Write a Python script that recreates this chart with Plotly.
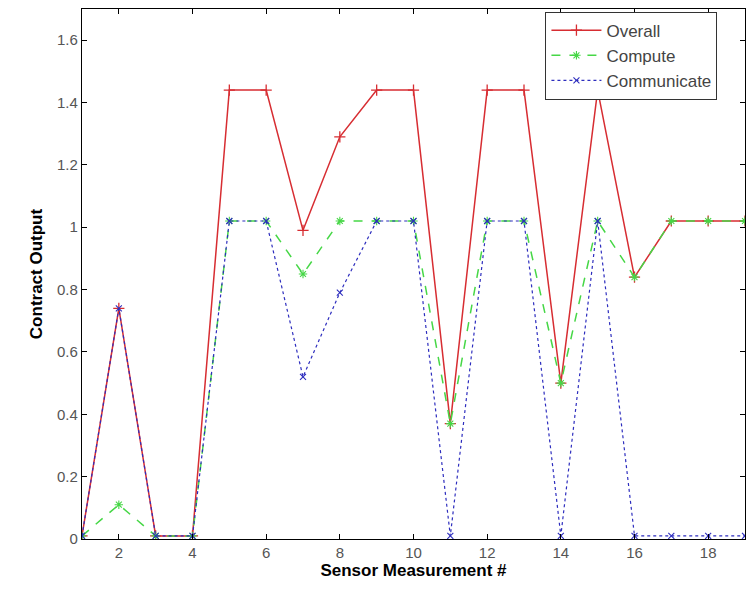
import plotly.graph_objects as go

x = list(range(1, 20))
overall = [0.01, 0.74, 0.01, 0.01, 1.44, 1.44, 0.99, 1.29, 1.44, 1.44,
           0.37, 1.44, 1.44, 0.50, 1.44, 0.84, 1.02, 1.02, 1.02]
compute = [0.01, 0.11, 0.01, 0.01, 1.02, 1.02, 0.85, 1.02, 1.02, 1.02,
           0.37, 1.02, 1.02, 0.50, 1.02, 0.84, 1.02, 1.02, 1.02]
communicate = [0.01, 0.74, 0.01, 0.01, 1.02, 1.02, 0.52, 0.79, 1.02, 1.02,
               0.01, 1.02, 1.02, 0.01, 1.02, 0.01, 0.01, 0.01, 0.01]
x_ticks = [2, 4, 6, 8, 10, 12, 14, 16, 18]
y_ticks = [0, 0.2, 0.4, 0.6, 0.8, 1, 1.2, 1.4, 1.6]

RED = "rgb(215,45,50)"
GREEN = "rgb(70,215,70)"
BLUE = "rgb(45,45,190)"

fig = go.Figure()
fig.add_trace(go.Scatter(
    x=x, y=overall, name="Overall", mode="lines+markers",
    line=dict(color=RED, width=1.5, dash="solid"),
    marker=dict(symbol="cross-thin-open", size=8, color=RED, line=dict(color=RED, width=1.3)),
))
fig.add_trace(go.Scatter(
    x=x, y=compute, name="Compute", mode="lines+markers",
    line=dict(color=GREEN, width=1.5, dash="dash"),
    marker=dict(symbol="asterisk-open", size=7, color=GREEN, line=dict(color=GREEN, width=1.1)),
))
fig.add_trace(go.Scatter(
    x=x, y=communicate, name="Communicate", mode="lines+markers",
    line=dict(color=BLUE, width=1.2, dash="dot"),
    marker=dict(symbol="x-thin-open", size=6, color=BLUE, line=dict(color=BLUE, width=1.1)),
))

axis_common = dict(
    showline=True, linecolor="black", linewidth=1.2, mirror="ticks",
    ticks="inside", ticklen=5, tickcolor="black", showgrid=False, zeroline=False,
    automargin=False,
    tickfont=dict(family="Liberation Sans, Arial, sans-serif", size=15, color="#555555"),
)

fig.update_layout(
    width=749, height=590,
    margin=dict(l=82, r=4, t=9, b=51),
    paper_bgcolor="white", plot_bgcolor="white",
    xaxis=dict(range=[1, 19], tickvals=x_ticks, **axis_common,
               title=dict(text="<b>Sensor Measurement #</b>", standoff=2,
                          font=dict(family="Liberation Sans, Arial, sans-serif", size=17, color="black"))),
    yaxis=dict(range=[0, 1.7], tickvals=y_ticks, **axis_common,
               title=dict(text="<b>Contract Output</b>", standoff=10,
                          font=dict(family="Liberation Sans, Arial, sans-serif", size=17, color="black"))),
    legend=dict(x=0.699, y=0.995, xanchor="left", yanchor="top",
                bordercolor="#333333", borderwidth=1, bgcolor="white",
                font=dict(family="Liberation Sans, Arial, sans-serif", size=17, color="#444444"),
                tracegroupgap=0, itemwidth=50),
    showlegend=True,
)

fig.write_html(
    "out.html",
    config={"displayModeBar": False},
    post_script="document.body.style.margin='0';document.body.style.overflow='hidden';",
)
